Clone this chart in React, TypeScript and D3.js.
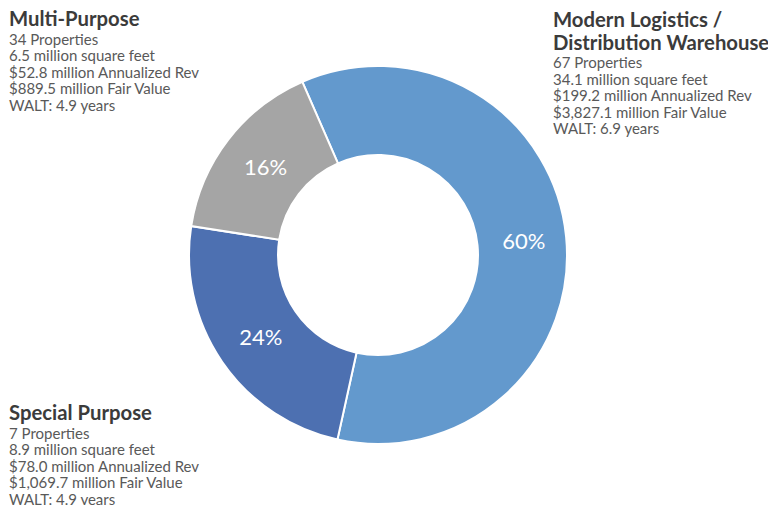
import * as d3 from "d3";

const WIDTH = 768;
const HEIGHT = 505;
const FONT = "Lato, 'Open Sans', sans-serif";

// segments in drawing order (clockwise from the top-left edge of the big slice)
const categories = ["Modern Logistics / Distribution Warehouse", "Special Purpose", "Multi-Purpose"];
const shares = [60, 24, 16];
const colors = ["#6399cd", "#4d70b1", "#a5a5a5"];

const titleLines = [
  ["Modern Logistics /", "Distribution Warehouse"],
  ["Special Purpose"],
  ["Multi-Purpose"],
];
const properties = ["67 Properties", "7 Properties", "34 Properties"];
const squareFeet = ["34.1 million square feet", "8.9 million square feet", "6.5 million square feet"];
const annualizedRev = ["$199.2 million Annualized Rev", "$78.0 million Annualized Rev", "$52.8 million Annualized Rev"];
const fairValue = ["$3,827.1 million Fair Value", "$1,069.7 million Fair Value", "$889.5 million Fair Value"];
const walt = ["WALT: 6.9 years", "WALT: 4.9 years", "WALT: 4.9 years"];

// where each text block sits (left x, first baseline)
const BLOCKS = [
  { x: 553, y: 27 },
  { x: 9, y: 420 },
  { x: 9, y: 26 },
];

const CX = 378;
const CY = 255;
const OUTER = 189;
const INNER = 100;
const START = (-23.6 * Math.PI) / 180;

export default function App() {
  const pie = d3
    .pie<number>()
    .sort(null)
    .value((d) => d)
    .startAngle(START)
    .endAngle(START + 2 * Math.PI);
  const arcs = pie(shares);

  const arc = d3.arc<d3.PieArcDatum<number>>().innerRadius(INNER).outerRadius(OUTER);
  const labelArc = d3
    .arc<d3.PieArcDatum<number>>()
    .innerRadius((INNER + OUTER) / 2)
    .outerRadius((INNER + OUTER) / 2);

  const total = d3.sum(shares);

  return (
    <svg
      width={WIDTH}
      height={HEIGHT}
      style={{ position: "absolute", left: 0, top: 0, background: "#fff" }}
      fontFamily={FONT}
    >
      <g transform={`translate(${CX},${CY})`}>
        {arcs.map((a, i) => (
          <path key={categories[i]} d={arc(a) || ""} fill={colors[i]} stroke="#fff" strokeWidth={2} />
        ))}
        {arcs.map((a, i) => {
          const [x, y] = labelArc.centroid(a);
          return (
            <text
              key={"p" + i}
              x={x + 2}
              y={y}
              textAnchor="middle"
              dominantBaseline="central"
              fill="#fff"
              fontSize={22}
            >
              {d3.format(".0%")(a.data / total)}
            </text>
          );
        })}
      </g>
      {categories.map((c, i) => {
        const b = BLOCKS[i];
        const titles = titleLines[i];
        const body = [properties[i], squareFeet[i], annualizedRev[i], fairValue[i], walt[i]];
        const titleStep = 22.5;
        const bodyStart = b.y + (titles.length - 1) * titleStep + 18.5;
        return (
          <g key={"t" + c}>
            {titles.map((t, j) => (
              <text key={t} x={b.x} y={b.y + j * titleStep} fontSize={20.3} fontWeight="bold" fill="#3b3b3b">
                {t}
              </text>
            ))}
            {body.map((t, j) => (
              <text key={t} x={b.x} y={bodyStart + j * 16.6} fontSize={15} fill="#595959">
                {t}
              </text>
            ))}
          </g>
        );
      })}
    </svg>
  );
}
